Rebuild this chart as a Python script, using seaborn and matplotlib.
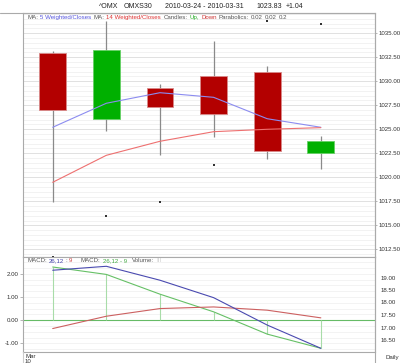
import matplotlib
matplotlib.use("Agg")
import matplotlib.pyplot as plt
import seaborn as sns
import pandas as pd
import numpy as np

# daily OHLC, ^OMX / OMXS30, 2010-03-24 .. 2010-03-31
dates = ['2010-03-24', '2010-03-25', '2010-03-26', '2010-03-29', '2010-03-30', '2010-03-31']
opens = [1032.92, 1026.07, 1029.33, 1030.52, 1030.97, 1022.53]
closes = [1027.00, 1033.26, 1027.32, 1026.60, 1022.79, 1023.83]
highs = [1033.16, 1036.28, 1029.72, 1034.17, 1031.56, 1024.30]
lows = [1017.46, 1024.85, 1022.32, 1024.23, 1021.94, 1020.86]
ma5 = [1025.21, 1027.71, 1028.81, 1028.33, 1026.10, 1025.21]
ma14 = [1019.48, 1022.29, 1023.75, 1024.75, 1025.00, 1025.17]
sar = [1011.75, 1016.00, 1017.46, 1021.25, 1036.28, 1036.00]

macd = [2.15, 2.32, 1.72, 0.97, -0.21, -1.21]
signal = [-0.36, 0.17, 0.50, 0.57, 0.43, 0.10]
hist = [2.29, 1.97, 1.12, 0.36, -0.60, -1.21]

price_ticks = [1012.5, 1015, 1017.5, 1020, 1022.5, 1025, 1027.5, 1030, 1032.5, 1035]
macd_ticks = [-1, 0, 1, 2]
vol_ticks = [16.5, 17, 17.5, 18, 18.5, 19]

df = pd.DataFrame({'date': dates, 'open': opens, 'close': closes, 'high': highs,
                   'low': lows, 'ma5': ma5, 'ma14': ma14, 'sar': sar,
                   'macd': macd, 'signal': signal, 'hist': hist})
df['i'] = np.arange(len(df))
up = df['close'] >= df['open']

sns.set_style("white")
plt.rcParams['font.family'] = ['Liberation Sans', 'DejaVu Sans']
FS = 4.4
GRAY = '#555555'

fig = plt.figure(figsize=(4.0, 3.63), dpi=100)
W, H = 400, 363
def box(l, t, r, b):
    return [l / W, 1 - b / H, (r - l) / W, (b - t) / H]

ax = fig.add_axes(box(23, 13, 375, 257))
axm = fig.add_axes(box(23, 257, 375, 352))
xlim = (-0.554, 6.01)

# --- price panel ---
for v in np.arange(1011.5, 1037.5, 0.5):
    major = abs(v / 2.5 - round(v / 2.5)) < 1e-6
    ax.axhline(v, color='#dcdcdc' if major else '#f0f0f0', lw=0.6, zorder=0)
ax.vlines(df['i'], df['low'], df['high'], color='#8a8a8a', lw=0.9, zorder=1)
body_col = np.where(up, '#00b000', '#b30000')
edge_col = np.where(up, '#66d066', '#d88a8a')
ax.bar(df['i'], df['close'] - df['open'], bottom=df['open'], width=0.5,
       color=body_col, edgecolor=edge_col, lw=0.6, zorder=2)
sns.lineplot(data=df, x='i', y='ma5', ax=ax, color='#8c8cf0', lw=0.8, zorder=3)
sns.lineplot(data=df, x='i', y='ma14', ax=ax, color='#ee7070', lw=0.8, zorder=3)
sns.scatterplot(data=df, x='i', y='sar', ax=ax, color='#333333', s=2, marker='s',
                edgecolor='none', zorder=4, clip_on=False)
ax.set_xlim(xlim)
ax.set_ylim(1011.7, 1037.11)
ax.set_xticks([])
ax.set_xlabel('')
ax.set_ylabel('')
ax.yaxis.tick_right()
ax.set_yticks(price_ticks)
ax.set_yticklabels([f'{t:.2f}' for t in price_ticks])
ax.tick_params(axis='y', labelsize=FS, length=1.5, width=0.5, pad=0.8,
               colors='#999999', labelcolor='#333333')
for s in ax.spines.values():
    s.set_color('#aaaaaa')
    s.set_linewidth(0.8)

# --- MACD panel ---
for v in np.arange(-1.25, 2.75, 0.25):
    axm.axhline(v, color='#eeeeee', lw=0.5, zorder=0)
axm.axhline(0, color='#66bb66', lw=0.8, zorder=1)
axm.vlines(df['i'], 0, df['hist'], color='#a8dca8', lw=0.8, zorder=1)
sns.lineplot(data=df, x='i', y='hist', ax=axm, color='#66c066', lw=0.8, zorder=2)
sns.lineplot(data=df, x='i', y='signal', ax=axm, color='#cc6060', lw=0.8, zorder=2)
sns.lineplot(data=df, x='i', y='macd', ax=axm, color='#4a4ab0', lw=0.8, zorder=3)
axm.set_xlim(xlim)
axm.set_ylim(-1.37, 2.72)
axm.set_xticks(df['i'])
axm.set_xticklabels([])
axm.tick_params(axis='x', length=1.5, width=0.5, colors='#aaaaaa', direction='in')
axm.set_yticks(macd_ticks)
axm.set_yticklabels([f'{t:.2f}' for t in macd_ticks])
axm.tick_params(axis='y', labelsize=FS, length=2, width=0.5, pad=1,
                colors='#999999', labelcolor='#333333')
axm.set_xlabel('')
axm.set_ylabel('')
for s in axm.spines.values():
    s.set_color('#aaaaaa')
    s.set_linewidth(0.8)

axv = axm.twinx()
axv.set_ylim(16.02, 19.82)
axv.set_yticks(vol_ticks)
axv.set_yticklabels([f'{t:.2f}' for t in vol_ticks])
axv.tick_params(axis='y', labelsize=FS, length=0, pad=4, labelcolor='#333333')
for s in axv.spines.values():
    s.set_visible(False)

# frame lines outside the axes
fig.add_artist(plt.Line2D([0, 375 / W], [1 - 13 / H] * 2, color='#aaaaaa', lw=0.8))
fig.add_artist(plt.Line2D([375 / W] * 2, [0, 1 - 13 / H], color='#aaaaaa', lw=0.8))
fig.add_artist(plt.Line2D([23 / W] * 2, [0, 1 - 352 / H], color='#cccccc', lw=0.8))

# --- texts: pieces chained one after another ---
def chain(host, parts, x, y, fs=FS):
    prev = host.text(x / W, 1 - y / H, parts[0][0], color=parts[0][1], fontsize=fs,
                     va='bottom', ha='left', transform=fig.transFigure, zorder=10)
    for txt, col, g in parts[1:]:
        prev = host.annotate(txt, xy=(1, 0), xycoords=prev, xytext=(g, 0),
                             textcoords='offset points', color=col, fontsize=fs,
                             va='bottom', ha='left', annotation_clip=False, zorder=10)
    return prev

chain(ax, [('^OMX', '#222222'), ('OMXS30', '#222222', 4),
           ('2010-03-24 - 2010-03-31', '#222222', 9),
           ('1023.83', '#222222', 9), ('+1.04', '#222222', 3)], 99, 10.5, fs=5.0)

chain(ax, [('MA:', GRAY), ('5 Weighted/Closes', '#5555dd', 1.5),
           ('MA:', GRAY, 1.5), ('14 Weighted/Closes', '#dd3333', 1.5),
           ('Candles:', GRAY, 1.5), ('Up,', '#22aa22', 1.5), ('Down', '#cc3333', 1.5),
           ('Parabolics:', GRAY, 1.5), ('0.02', GRAY, 1.5), ('0.02', GRAY, 1.2),
           ('0.2', GRAY, 1.2)], 27, 20)

chain(axv, [('MACD:', GRAY), ('26,12', '#4444aa', 1.5), (':', GRAY, 1.2),
            ('9', '#cc4444', 1.2), ('MACD:', GRAY, 6), ('26,12 - 9', '#44aa44', 1.5),
            ('Volume:', GRAY, 4), ('III', '#cccccc', 1.5)], 27, 263)

fig.text(25 / W, 1 - 356 / H, 'Mar', fontsize=FS, color='#333333', va='center')
fig.text(25 / W, 1 - 361.5 / H, '10', fontsize=FS, color='#333333', va='center')
fig.text(386 / W, 1 - 357 / H, 'Daily', fontsize=FS, color='#333333', va='center')

fig.savefig('out.png', dpi=100)
